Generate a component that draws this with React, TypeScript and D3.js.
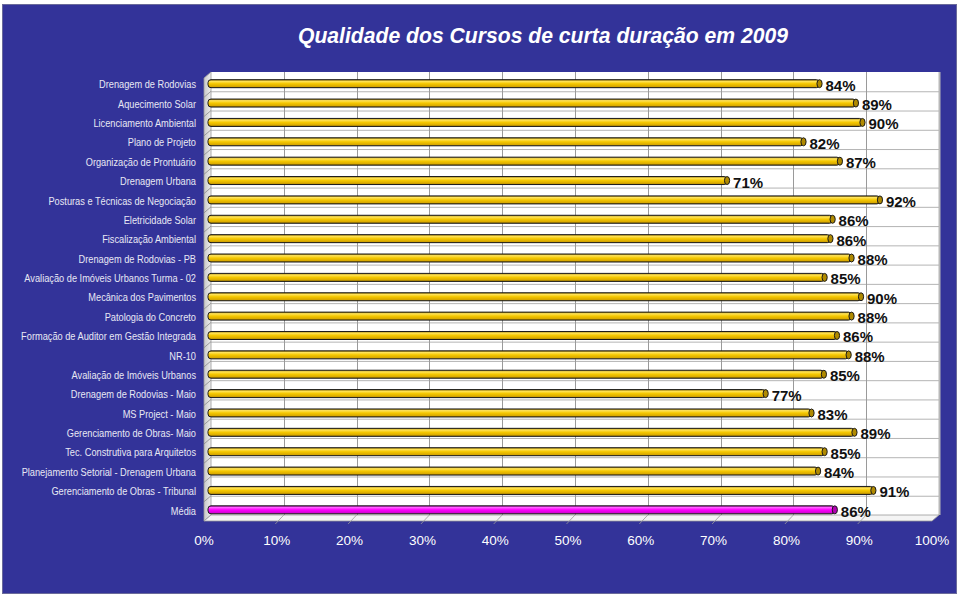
import React from "react";
import * as d3 from "d3";

const title = "Qualidade dos Cursos de curta duração em 2009";

const categories = [
  "Drenagem de Rodovias",
  "Aquecimento Solar ",
  "Licenciamento Ambiental ",
  "Plano de Projeto",
  "Organização de Prontuário",
  "Drenagem Urbana",
  "Posturas e Técnicas de Negociação",
  "Eletricidade Solar",
  "Fiscalização Ambiental",
  "Drenagem de Rodovias - PB",
  "Avaliação de Imóveis Urbanos Turma - 02",
  "Mecânica dos Pavimentos",
  "Patologia do Concreto",
  "Formação de Auditor em Gestão Integrada",
  "NR-10",
  "Avaliação de Imóveis Urbanos ",
  "Drenagem de Rodovias - Maio",
  "MS Project - Maio",
  "Gerenciamento de Obras- Maio ",
  "Tec. Construtiva para Arquitetos",
  "Planejamento Setorial - Drenagem Urbana",
  "Gerenciamento de Obras - Tribunal ",
  "Média",
];

const values = [
  84.0, 89.0, 89.9, 81.8, 86.8, 71.3, 92.3, 85.8, 85.5, 88.4, 84.7, 89.7,
  88.4, 86.4, 88.0, 84.6, 76.6, 82.9, 88.8, 84.7, 83.8, 91.4, 86.1,
];

const highlight = ["Média"];

const xTicks = [0, 10, 20, 30, 40, 50, 60, 70, 80, 90, 100];

export default function App() {
  const W = 960;
  const H = 600;
  const depthX = 7;
  const depthY = 6;

  const xFront = d3.scaleLinear().domain([0, 100]).range([204, 932]);
  const xBack = (v: number) => xFront(v) + depthX;
  const xBar = (v: number) => xFront(v) + 4;

  const backTop = 72;
  const backBottom = 515;
  const yBack = d3.scaleBand<string>().domain(categories).range([backTop, backBottom]);
  const yBar = d3.scaleBand<string>().domain(categories).range([74, 519.5]);

  const fmt = (v: number) => `${Math.round(v)}%`;
  const barH = 8;

  const font = "Arial, 'Liberation Sans', Helvetica, sans-serif";
  const labelRight = 196;

  return (
    <div style={{ position: "fixed", left: 0, top: 0, width: W, height: H }}>
      <svg width={W} height={H} style={{ display: "block" }}>
        <defs>
          <linearGradient id="gold" x1="0" y1="0" x2="0" y2="1">
            <stop offset="0" stopColor="#9a7800" />
            <stop offset="0.2" stopColor="#ffe35a" />
            <stop offset="0.5" stopColor="#f5c800" />
            <stop offset="0.85" stopColor="#d8a800" />
            <stop offset="1" stopColor="#8a6a00" />
          </linearGradient>
          <linearGradient id="pink" x1="0" y1="0" x2="0" y2="1">
            <stop offset="0" stopColor="#a000a0" />
            <stop offset="0.2" stopColor="#ff60ff" />
            <stop offset="0.5" stopColor="#ff00ff" />
            <stop offset="0.85" stopColor="#d800d8" />
            <stop offset="1" stopColor="#900090" />
          </linearGradient>
          <linearGradient id="leftwall" x1="0" y1="0" x2="1" y2="0">
            <stop offset="0" stopColor="#c8c8c8" />
            <stop offset="1" stopColor="#eeeeee" />
          </linearGradient>
        </defs>

        <rect x={0} y={0} width={W} height={H} fill="#ffffff" />
        <rect x={2.5} y={4.5} width={954} height={589} fill="#333399" stroke="#6a6a9a" strokeWidth={1} />

        <text
          x={543}
          y={43}
          textAnchor="middle"
          fill="#ffffff"
          fontFamily={font}
          fontWeight="bold"
          fontStyle="italic"
          fontSize={22}
          textLength={490}
          lengthAdjust="spacingAndGlyphs"
        >
          {title}
        </text>

        {/* back wall */}
        <rect x={xBack(0)} y={backTop} width={xBack(100) - xBack(0)} height={backBottom - backTop} fill="#ffffff" />
        <line x1={xBack(100) + 0.5} y1={backTop} x2={xBack(100) + 0.5} y2={backBottom} stroke="#b8b8b8" strokeWidth={2} />
        {categories.slice(1).map((c) => (
          <line
            key={"h" + c}
            x1={xBack(0)}
            x2={xBack(100)}
            y1={(yBack(c) as number) + 0.5}
            y2={(yBack(c) as number) + 0.5}
            stroke="#b4b4b4"
            strokeWidth={1}
          />
        ))}
        {xTicks.slice(1, -1).map((t) => (
          <line
            key={"v" + t}
            x1={Math.round(xBack(t)) + 0.5}
            x2={Math.round(xBack(t)) + 0.5}
            y1={backTop}
            y2={backBottom}
            stroke="#9a9a9a"
            strokeWidth={1}
          />
        ))}

        {/* left wall */}
        <polygon
          points={`${xFront(0)},${backTop + depthY} ${xBack(0)},${backTop} ${xBack(0)},${backBottom} ${xFront(0)},${backBottom + depthY}`}
          fill="url(#leftwall)"
          stroke="#9a9a9a"
          strokeWidth={0.8}
        />
        {categories.slice(1).map((c) => (
          <line
            key={"l" + c}
            x1={xBack(0)}
            y1={yBack(c) as number}
            x2={xFront(0)}
            y2={(yBack(c) as number) + depthY}
            stroke="#8a8a8a"
            strokeWidth={0.8}
          />
        ))}

        {/* floor */}
        <polygon
          points={`${xFront(0)},${backBottom + depthY} ${xBack(0)},${backBottom} ${xBack(100)},${backBottom} ${xFront(100)},${backBottom + depthY}`}
          fill="#f4f4f4"
          stroke="#9a9a9a"
          strokeWidth={0.8}
        />
        {xTicks.slice(1, -1).map((t) => (
          <line
            key={"f" + t}
            x1={xBack(t)}
            y1={backBottom}
            x2={xFront(t) - 1.5}
            y2={backBottom + depthY + 3}
            stroke="#9a9a9a"
            strokeWidth={0.8}
          />
        ))}

        {/* bars */}
        {categories.map((c, i) => {
          const v = values[i];
          const cy = (yBar(c) as number) + yBar.bandwidth() / 2;
          const x0 = xBar(0);
          const x1 = xBar(v);
          const isHi = highlight.includes(c);
          return (
            <g key={"b" + c}>
              <rect
                x={x0}
                y={cy - barH / 2}
                width={x1 - x0}
                height={barH}
                rx={3}
                ry={3}
                fill={isHi ? "url(#pink)" : "url(#gold)"}
                stroke="#1a1a1a"
                strokeWidth={1}
              />
              <ellipse
                cx={x1}
                cy={cy}
                rx={2.6}
                ry={barH / 2}
                fill={isHi ? "#b000b0" : "#b08a00"}
                stroke="#1a1a1a"
                strokeWidth={1}
              />
            </g>
          );
        })}

        {/* value labels */}
        {categories.map((c, i) => {
          const v = values[i];
          const cy = (yBar(c) as number) + yBar.bandwidth() / 2;
          return (
            <text
              key={"vl" + c}
              x={xBar(v) + 6}
              y={cy + 1.5}
              dominantBaseline="central"
              fill="#111111"
              fontFamily={font}
              fontWeight="bold"
              fontSize={15}
            >
              {fmt(v)}
            </text>
          );
        })}

        {/* category labels */}
        <g transform={`translate(${labelRight},0) scale(0.88,1)`}>
          {categories.map((c) => {
            const cy = (yBar(c) as number) + yBar.bandwidth() / 2;
            return (
              <text
                key={"cl" + c}
                x={0}
                y={cy + 1}
                textAnchor="end"
                dominantBaseline="central"
                fill="#e8e8f4"
                fontFamily={font}
                fontSize={10.5}
              >
                {c.trimEnd()}
              </text>
            );
          })}
        </g>

        {/* x tick labels */}
        {xTicks.map((t) => (
          <text
            key={"t" + t}
            x={xFront(t)}
            y={540}
            textAnchor="middle"
            dominantBaseline="central"
            fill="#ffffff"
            fontFamily={font}
            fontSize={13.5}
          >
            {`${t}%`}
          </text>
        ))}
      </svg>
    </div>
  );
}
